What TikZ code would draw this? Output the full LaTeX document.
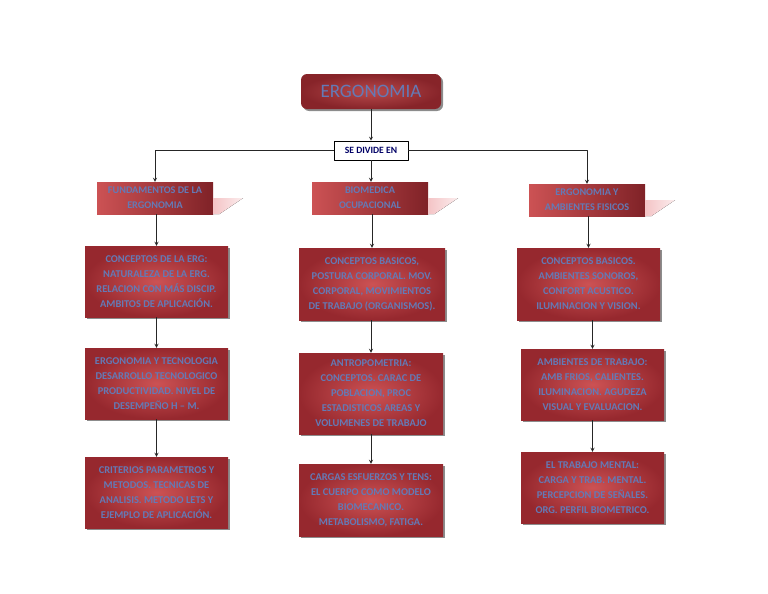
\documentclass[tikz,border=0pt]{standalone}
\usepackage{fontspec}
\setmainfont{Carlito}
\usetikzlibrary{shadows}

\begin{document}
\begin{tikzpicture}[x=1pt,y=-1pt,>=stealth,line join=round,
	caja/.style={shading=radial,inner color=rojoclaro,outer color=rojooscuro,text=azultexto,
		font=\bfseries\fontsize{10.4}{15}\selectfont,align=center,inner sep=0pt,
		drop shadow={shadow xshift=2pt,shadow yshift=-2pt,opacity=.45,fill=black}},
	tema/.style={shading=axis,left color=rojoclaro,right color=rojooscuro!85!black,text=azultexto,
		font=\bfseries\fontsize{10.2}{15}\selectfont,align=center,inner sep=0pt,
		minimum width=116pt,minimum height=32pt},
	flecha/.style={->,line width=.8pt,draw=black!85}]
	\definecolor{rojoclaro}{RGB}{204,82,84}
	\definecolor{rojooscuro}{RGB}{150,40,46}
	\definecolor{azultexto}{RGB}{100,122,182}
	\definecolor{rosa}{RGB}{244,196,198}
	\useasboundingbox (0,0) rectangle (768,594);
	
	\node[caja,rounded corners=6pt,minimum width=140pt,minimum height=35pt,
		inner color=rojoclaro!90!black,outer color=rojooscuro!90!black,
		font=\fontsize{19}{20}\selectfont] (erg) at (371,91.5) {ERGONOMIA};
	\node[draw,fill=white,line width=.6pt,minimum width=74pt,minimum height=19pt,inner sep=0pt,
		text=blue!40!black,font=\bfseries\fontsize{9.6}{10}\selectfont] (div) at (371,150.5) {SE DIVIDE EN};
	
	\node[tema] (f1) at (155,198) {FUNDAMENTOS DE LA\\ERGONOMIA};
	\node[tema] (f2) at (370,198) {BIOMEDICA\\OCUPACIONAL};
	\node[tema] (f3) at (587,200) {ERGONOMIA Y\\AMBIENTES FISICOS};
	\foreach \n in {f1,f2,f3}
		\fill[left color=rosa,right color=rosa!30] (\n.east) -- ++(30,0) -- ([xshift=6pt]\n.south east) -- (\n.south east) -- cycle;
	
	\node[caja,minimum width=143pt,minimum height=71pt] (a1) at (156.5,281.5) {CONCEPTOS DE LA ERG:\\NATURALEZA DE LA ERG.\\RELACION CON MÁS DISCIP.\\AMBITOS DE APLICACIÓN.};
	\node[caja,minimum width=146pt,minimum height=72pt] (a2) at (372,284) {CONCEPTOS BASICOS,\\POSTURA CORPORAL. MOV.\\CORPORAL, MOVIMIENTOS\\DE TRABAJO (ORGANISMOS).};
	\node[caja,minimum width=143pt,minimum height=72pt] (a3) at (588.5,284) {CONCEPTOS BASICOS.\\AMBIENTES SONOROS,\\CONFORT ACUSTICO.\\ILUMINACION Y VISION.};
	
	\node[caja,minimum width=143pt,minimum height=71pt] (b1) at (156.5,383.5) {ERGONOMIA Y TECNOLOGIA\\DESARROLLO TECNOLOGICO\\PRODUCTIVIDAD. NIVEL DE\\DESEMPEÑO H – M.};
	\node[caja,minimum width=144pt,minimum height=81pt] (b2) at (371,393.5) {ANTROPOMETRIA:\\CONCEPTOS. CARAC DE\\POBLACION, PROC\\ESTADISTICOS AREAS Y\\VOLUMENES DE TRABAJO};
	\node[caja,minimum width=143pt,minimum height=71pt] (b3) at (592.5,384.5) {AMBIENTES DE TRABAJO:\\AMB FRIOS, CALIENTES.\\ILUMINACION. AGUDEZA\\VISUAL Y EVALUACION.};
	
	\node[caja,minimum width=143pt,minimum height=71pt] (c1) at (156.5,492.5) {CRITERIOS PARAMETROS Y\\METODOS. TECNICAS DE\\ANALISIS. METODO LETS Y\\EJEMPLO DE APLICACIÓN.};
	\node[caja,minimum width=144pt,minimum height=72pt] (c2) at (371,500) {CARGAS ESFUERZOS Y TENS:\\EL CUERPO COMO MODELO\\BIOMECANICO.\\METABOLISMO, FATIGA.};
	\node[caja,minimum width=143pt,minimum height=71pt] (c3) at (592.5,487.5) {EL TRABAJO MENTAL:\\CARGA Y TRAB. MENTAL.\\PERCEPCION DE SEÑALES.\\ORG. PERFIL BIOMETRICO.};
	
	\draw[flecha] (erg) -- (div);
	\draw[flecha] (div.west) -| (f1.north);
	\draw[flecha] (div.south) -- (f2.north -| div.south);
	\draw[flecha] (div.east) -| (f3.north);
	\foreach \u/\v in {f1/a1,a1/b1,b1/c1,f2/a2,a2/b2,b2/c2,f3/a3,a3/b3,b3/c3}
		\draw[flecha] (\u.south -| \v.north) -- (\v.north);
\end{tikzpicture}
\end{document}
